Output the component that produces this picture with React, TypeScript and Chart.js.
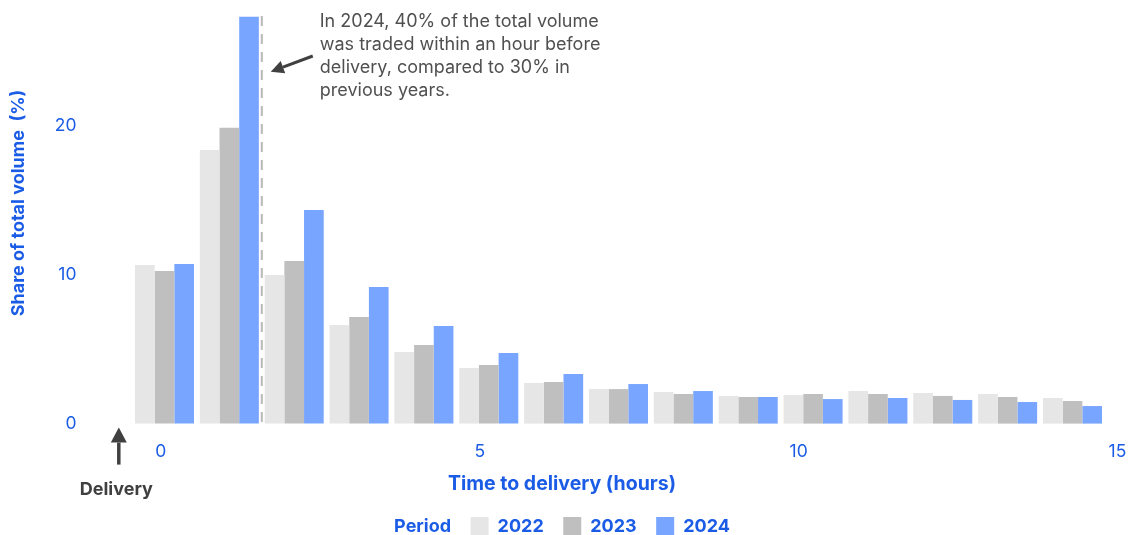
import React, { useEffect, useRef } from "react";
import { Chart, registerables } from "chart.js";

Chart.register(...registerables);

// ---- data ----
const hourBins = [0, 1, 2, 3, 4, 5, 6, 7, 8, 9, 10, 11, 12, 13, 14];
const periods = ["2022", "2023", "2024"];
const share2022 = [10.67, 18.4, 10.0, 6.63, 4.82, 3.74, 2.73, 2.32, 2.13, 1.86, 1.92, 2.19, 2.06, 1.99, 1.72];
const share2023 = [10.26, 19.89, 10.93, 7.17, 5.29, 3.94, 2.8, 2.32, 1.99, 1.79, 1.99, 1.99, 1.86, 1.79, 1.52];
const share2024 = [10.73, 27.36, 14.36, 9.19, 6.56, 4.75, 3.34, 2.66, 2.19, 1.79, 1.65, 1.72, 1.59, 1.45, 1.18];
const xTickValues = [0, 5, 10, 15];
const yTickValues = [0, 10, 20];
const markerBin = 1.5;
const annotationLines = [
  "In 2024, 40% of the total volume",
  "was traded within an hour before",
  "delivery, compared to 30% in",
  "previous years.",
];
const xTitle = "Time to delivery (hours)";
const yTitle = "Share of total volume  (%)";
const legendTitle = "Period";
const deliveryLabel = "Delivery";

// ---- style ----
const W = 1132;
const H = 535;
const BLUE = "#1a5ce6";
const DARK = "#404040";
const TEXT_GRAY = "#505050";
const periodColors = ["#e6e6e6", "#bfbfbf", "#78a5ff"];
const FONT = "Inter, 'Noto Sans', sans-serif";

function drawArrow(ctx, x1, y1, x2, y2, headLen, headW, lw, color) {
  const ang = Math.atan2(y2 - y1, x2 - x1);
  const bx = x2 - headLen * Math.cos(ang);
  const by = y2 - headLen * Math.sin(ang);
  ctx.save();
  ctx.strokeStyle = color;
  ctx.fillStyle = color;
  ctx.lineWidth = lw;
  ctx.beginPath();
  ctx.moveTo(x1, y1);
  ctx.lineTo(bx, by);
  ctx.stroke();
  const px = -Math.sin(ang) * (headW / 2);
  const py = Math.cos(ang) * (headW / 2);
  ctx.beginPath();
  ctx.moveTo(x2, y2);
  ctx.lineTo(bx + px, by + py);
  ctx.lineTo(bx - px, by - py);
  ctx.closePath();
  ctx.fill();
  ctx.restore();
}

function zeroPadding(s) {
  s.paddingLeft = 0;
  s.paddingRight = 0;
  s.paddingTop = 0;
  s.paddingBottom = 0;
}

const overlayPlugin = {
  id: "overlay",
  afterDatasetsDraw(chart) {
    const ctx = chart.ctx;
    const area = chart.chartArea;
    const xb = chart.scales.xb;
    const lx = xb.getPixelForValue(markerBin);

    ctx.save();
    // dashed marker line
    ctx.strokeStyle = "#b8b8b8";
    ctx.lineWidth = 2;
    ctx.setLineDash([10, 8]);
    ctx.beginPath();
    ctx.moveTo(lx, area.top);
    ctx.lineTo(lx, area.bottom);
    ctx.stroke();
    ctx.setLineDash([]);

    // annotation arrow + text
    drawArrow(ctx, lx + 51, 56, lx + 9, 71.7, 13, 13, 3, DARK);
    ctx.fillStyle = TEXT_GRAY;
    ctx.font = `18px ${FONT}`;
    ctx.textAlign = "left";
    ctx.textBaseline = "alphabetic";
    annotationLines.forEach((line, i) => {
      ctx.fillText(line, lx + 58, 27.3 + i * 22.8);
    });

    // delivery arrow + label
    const dx = area.left - 42;
    drawArrow(ctx, dx, area.bottom + 41, dx, area.bottom + 4, 15, 16, 3.5, DARK);
    ctx.fillStyle = DARK;
    ctx.font = `bold 18px ${FONT}`;
    ctx.textAlign = "center";
    ctx.textBaseline = "middle";
    ctx.fillText(deliveryLabel, dx - 2.5, area.bottom + 66);

    // axis titles
    const centerX = 562;
    ctx.fillStyle = BLUE;
    ctx.font = `bold 19.5px ${FONT}`;
    ctx.fillText(xTitle, centerX, 484);
    ctx.save();
    ctx.translate(19, 203);
    ctx.rotate(-Math.PI / 2);
    ctx.font = `bold 18px ${FONT}`;
    ctx.fillText(yTitle, 0, 0);
    ctx.restore();

    // legend
    const gapItem = 19.5;
    const gapSwatch = 9;
    const sw = 18;
    const legY = 526.5;
    ctx.font = `bold 18px ${FONT}`;
    let total = ctx.measureText(legendTitle).width;
    periods.forEach((p) => {
      total += gapItem + sw + gapSwatch + ctx.measureText(p).width;
    });
    let x = centerX - total / 2;
    ctx.textAlign = "left";
    ctx.fillStyle = BLUE;
    ctx.fillText(legendTitle, x, legY);
    x += ctx.measureText(legendTitle).width + gapItem;
    periods.forEach((p, i) => {
      ctx.fillStyle = periodColors[i];
      ctx.fillRect(x, 517, sw, sw);
      x += sw + gapSwatch;
      ctx.fillStyle = BLUE;
      ctx.fillText(p, x, legY);
      x += ctx.measureText(p).width + gapItem;
    });
    ctx.restore();
  },
};

export default function App() {
  const ref = useRef(null);
  useEffect(() => {
    const series = [share2022, share2023, share2024];
    const chart = new Chart(ref.current, {
      type: "bar",
      data: {
        datasets: periods.map((p, i) => ({
          label: p,
          data: hourBins.map((h, j) => ({ x: h, y: series[i][j] })),
          backgroundColor: periodColors[i],
          borderWidth: 0,
          xAxisID: "xb",
          yAxisID: "y",
          categoryPercentage: 0.91,
          barPercentage: 1,
          clip: false,
        })),
      },
      options: {
        animation: false,
        responsive: false,
        maintainAspectRatio: false,
        devicePixelRatio: 1,
        layout: { padding: { top: 16, right: 14.5, left: 0, bottom: 0 } },
        plugins: { legend: { display: false }, tooltip: { enabled: false } },
        scales: {
          xb: {
            type: "linear",
            position: "bottom",
            display: false,
            offset: false,
            min: -0.057,
            max: 14.694,
            ticks: { stepSize: 1, includeBounds: false, padding: 0 },
            afterFit: (s) => {
              s.height = 0;
              zeroPadding(s);
            },
          },
          x: {
            type: "linear",
            position: "bottom",
            offset: false,
            min: 0,
            max: 15,
            border: { display: false },
            grid: { display: false, drawTicks: false },
            afterBuildTicks: (s) => {
              s.ticks = xTickValues.map((v) => ({ value: v }));
            },
            ticks: {
              color: BLUE,
              font: { family: FONT, size: 17.5 },
              padding: 17.3,
              maxRotation: 0,
              autoSkip: false,
            },
            afterFit: (s) => {
              s.height = 111.4;
              zeroPadding(s);
            },
          },
          y: {
            type: "linear",
            position: "left",
            min: 0,
            max: 27.41,
            border: { display: false },
            grid: { display: false, drawTicks: false },
            afterBuildTicks: (s) => {
              s.ticks = yTickValues.map((v) => ({ value: v }));
            },
            ticks: {
              color: BLUE,
              font: { family: FONT, size: 17.5 },
              padding: 84.3,
            },
            afterFit: (s) => {
              s.width = 160.8;
              zeroPadding(s);
            },
          },
        },
      },
      plugins: [overlayPlugin],
    });
    if (document.fonts && document.fonts.load) {
      Promise.all([
        document.fonts.load(`18px Inter`),
        document.fonts.load(`bold 18px Inter`),
      ]).then(() => chart.update()).catch(() => {});
    }
    return () => chart.destroy();
  }, []);
  return (
    <div style={{ position: "fixed", left: 0, top: 0, width: W, height: H, background: "#fff" }}>
      <canvas ref={ref} width={W} height={H} style={{ width: W, height: H, display: "block" }} />
    </div>
  );
}
